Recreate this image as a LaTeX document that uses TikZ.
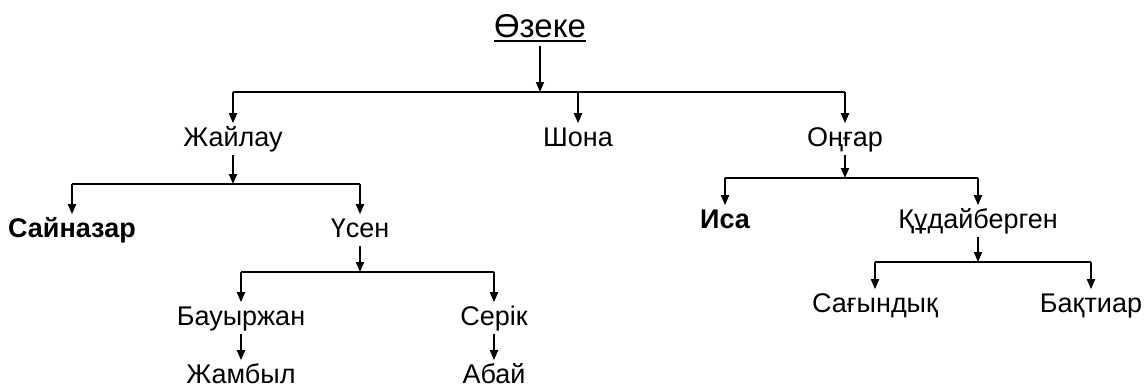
\documentclass[tikz,border=0pt]{standalone}
\usepackage{fontspec}
\setmainfont{Liberation Sans}
\usetikzlibrary{arrows.meta,calc}

\tikzset{
    person/.style={font=\fontsize{13.5}{16}\selectfont, inner sep=1.5pt,
        text height=9.7pt, text depth=2.8pt, anchor=base},
    link/.style={-{Triangle[length=5pt,width=4pt]}, line width=0.9pt},
    branch/.style={line width=0.9pt}
}

\begin{document}
\begin{tikzpicture}[x=0.5pt, y=-0.5pt]
    \useasboundingbox (0,0) rectangle (1146,387);

    % Root of the family tree
    \node[person, font=\fontsize{16.5}{19}\selectfont, text height=11.8pt] (ozeke) at (540,37) {Өзеке};
    \draw[branch] ([xshift=1.5pt,yshift=-1.8pt]ozeke.base west) -- ([xshift=-1.5pt,yshift=-1.8pt]ozeke.base east);

    % People, placed at pixel positions
    \foreach \nm/\x/\y/\txt in {
        zhailau/233/146/Жайлау,
        shona/578/146/Шона,
        ongar/845/146/Оңғар,
        saina/72/237/{\bfseries Сайназар},
        usen/360/237/Үсен,
        isa/725/228/{\bfseries Иса},
        kudai/978/228/Құдайберген,
        bauyr/241/325/Бауыржан,
        serik/494/325/Серік,
        zhambyl/241/383/Жамбыл,
        abai/494/383/Абай,
        sagyn/875/312/Сағындық,
        baktiar/1091/312/Бақтиар
    } {
        \node[person] (\nm) at (\x,\y) {\txt};
    }

    % Junction points of the branches
    \coordinate (rootbar) at (540,92);
    \coordinate (zhbar) at (233,184);
    \coordinate (usbar) at (360,272);
    \coordinate (onbar) at (845,178);
    \coordinate (kubar) at (978,262);

    % Parent -> junction
    \foreach \p/\j in {ozeke/rootbar, zhailau/zhbar, usen/usbar, ongar/onbar, kudai/kubar}
        \draw[link] (\p) -- (\j);

    % Horizontal branches
    \draw[branch] (rootbar -| zhailau) -- (rootbar -| ongar);
    \draw[branch] (zhbar -| saina) -- (zhbar -| usen);
    \draw[branch] (usbar -| bauyr) -- (usbar -| serik);
    \draw[branch] (onbar -| isa) -- (onbar -| kudai);
    \draw[branch] (kubar -| sagyn) -- (kubar -| baktiar);

    % Junction -> children
    \foreach \j/\c in {rootbar/zhailau, rootbar/shona, rootbar/ongar,
                       zhbar/saina, zhbar/usen, usbar/bauyr, usbar/serik,
                       onbar/isa, onbar/kudai, kubar/sagyn, kubar/baktiar}
        \draw[link] (\j -| \c) -- (\c);

    % Single descendants
    \draw[link] (bauyr) -- (zhambyl);
    \draw[link] (serik) -- (abai);

\end{tikzpicture}
\end{document}
